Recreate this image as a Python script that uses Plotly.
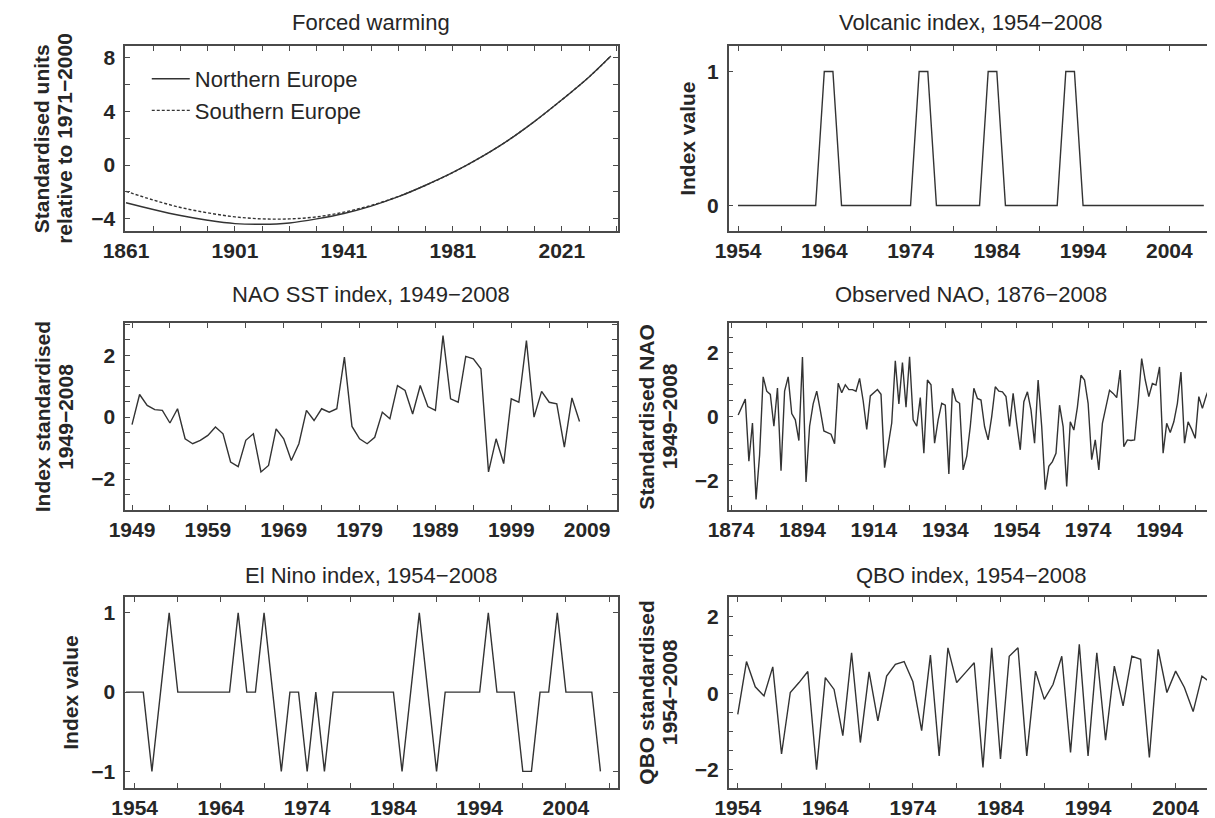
import plotly.graph_objects as go

# ---------------- data ----------------
# Forced warming (standardised units relative to 1971-2000)
fw_years = [1861, 1871, 1881, 1891, 1901, 1911, 1921, 1931, 1941, 1951,
            1961, 1971, 1981, 1991, 2001, 2011, 2021, 2031, 2039]
fw_north = [-2.8, -3.3, -3.75, -4.1, -4.35, -4.4, -4.3, -4.0, -3.6, -3.05,
            -2.35, -1.5, -0.55, 0.55, 1.8, 3.25, 4.85, 6.55, 8.1]
fw_south = [-1.95, -2.6, -3.15, -3.55, -3.85, -4.0, -4.0, -3.85, -3.5, -3.0,
            -2.33, -1.5, -0.55, 0.55, 1.8, 3.25, 4.85, 6.55, 8.1]

# Volcanic index 1954-2008
volc_years = list(range(1954, 2009))
volc_vals = [0, 0, 0, 0, 0, 0, 0, 0, 0, 0,
             1, 1,
             0, 0, 0, 0, 0, 0, 0, 0, 0,
             1, 1,
             0, 0, 0, 0, 0, 0,
             1, 1,
             0, 0, 0, 0, 0, 0, 0,
             1, 1,
             0, 0, 0, 0, 0, 0, 0, 0, 0, 0, 0, 0, 0, 0, 0]

# NAO SST index 1949-2008
sst_years = list(range(1949, 2009))
sst_vals = [-0.24, 0.73, 0.38, 0.24, 0.22, -0.19, 0.27, -0.70, -0.86, -0.75,
            -0.59, -0.32, -0.54, -1.45, -1.60, -0.75, -0.54, -1.77, -1.56, -0.38,
            -0.70, -1.40, -0.86, 0.22, -0.11, 0.27, 0.16, 0.27, 1.94, -0.30,
            -0.70, -0.86, -0.65, 0.16, -0.05, 1.02, 0.86, 0.10, 1.02, 0.34,
            0.22, 2.63, 0.59, 0.48, 1.96, 1.88, 1.56, -1.77, -0.70, -1.50,
            0.59, 0.48, 2.47, 0.00, 0.83, 0.48, 0.43, -0.97, 0.62, -0.14]

# Observed NAO 1876-2008
nao_years = list(range(1876, 2009))
nao_vals = [0.05, 0.30, 0.55, -1.40, -0.20, -2.60, -1.20, 1.25, 0.80, 0.70,
            -0.30, 0.90, -1.70, 0.80, 1.25, 0.10, -0.10, -0.75, 1.87, -2.05,
            -0.30, 0.40, 0.80, 0.20, -0.45, -0.50, -0.55, -0.85, 1.05, 0.75,
            1.00, 0.85, 0.85, 0.80, 1.20, 0.50, -0.40, 0.65, 0.75, 0.85,
            0.70, -1.60, -0.90, -0.20, 1.75, 0.40, 1.70, 0.30, 1.88, -0.10,
            -0.30, 0.60, -1.15, 1.15, 1.00, -0.83, -0.10, 0.42, 0.36, -1.80,
            0.89, 0.50, 0.42, -1.67, -1.25, -0.31, 0.89, 0.57, 0.52, -0.31,
            -0.73, 0.00, 0.94, 0.80, 0.78, 0.63, -0.31, 0.73, -0.21, -1.04,
            0.47, 0.78, 0.21, -0.83, 1.15, -0.31, -2.29, -1.56, -1.41, -1.15,
            0.36, -0.31, -2.19, -0.16, -0.42, 0.30, 1.30, 1.15, 0.42, -1.35,
            -0.73, -1.67, -0.21, 0.30, 0.83, 0.73, 0.60, 1.46, -0.94, -0.73,
            -0.75, -0.73, 0.42, 1.82, 1.15, 0.63, 1.04, 0.99, 1.56, -1.15,
            -0.21, -0.50, -0.16, 0.42, 1.40, -0.83, -0.16, -0.40, -0.68, 0.63,
            0.26, 0.63, 0.94]

# El Nino index 1953-2008
enso_years = list(range(1953, 2009))
enso_vals = [0, 0, 0, -1, 0, 1, 0, 0, 0, 0,
             0, 0, 0, 1, 0, 0, 1, 0, -1, 0,
             0, -1, 0, -1, 0, 0, 0, 0, 0, 0,
             0, 0, -1, 0, 1, 0, -1, 0, 0, 0,
             0, 0, 1, 0, 0, 0, -1, -1, 0, 0,
             1, 0, 0, 0, 0, -1]

# QBO index 1954-2008
qbo_years = list(range(1954, 2009))
qbo_vals = [-0.55, 0.83, 0.17, -0.07, 0.69, -1.59, 0.02, 0.28, 0.57, -2.00,
            0.41, 0.10, -1.11, 1.06, -1.29, 0.56, -0.72, 0.45, 0.76, 0.83,
            0.30, -0.98, 1.00, -1.64, 1.19, 0.28, 0.54, 0.80, -1.94, 1.19,
            -1.72, 0.97, 1.19, -1.64, 0.58, -0.16, 0.23, 0.97, -1.55, 1.28,
            -1.64, 1.06, -1.23, 0.71, -0.33, 0.97, 0.89, -1.68, 1.15, 0.02,
            0.58, 0.15, -0.48, 0.45, 0.28]

titles = ["Forced warming", "Volcanic index, 1954\u22122008",
          "NAO SST index, 1949\u22122008", "Observed NAO, 1876\u22122008",
          "El Nino index, 1954\u22122008", "QBO index, 1954\u22122008"]
ylabels = [["Standardised units", "relative to 1971\u22122000"], ["Index value"],
           ["Index standardised", "1949\u22122008"], ["Standardised NAO", "1949\u22122008"],
           ["Index value"], ["QBO standardised", "1954\u22122008"]]

# ---------------- layout helpers ----------------
W, H = 1215, 818
SH = 8  # page body margin compensation
FONT = "Liberation Sans, Arial, Helvetica, sans-serif"
NFONT = "Liberation Sans Narrow, Arial Narrow, Liberation Sans, sans-serif"
INK = "#262626"
AXC = "#4a4a4a"
LINEC = "#333333"


def fx(px):
    return (px - SH) / W


def fy(py):
    return 1 - (py - SH) / H


# panel boxes in reference pixels: (left, right, top, bottom)
boxes = [(104, 606, 46, 231), (719, 1214, 46, 231),
         (104, 605, 323, 510), (719, 1214, 323, 510),
         (104, 606, 597, 788), (719, 1214, 597, 788)]
title_y = [22, 22, 295, 295, 575, 575]
ylab_x = [[19, 42], [677], [20, 43], [635, 659], [48], [635, 659]]

xcfg = [dict(range=[1860.7, 2041.5], tick0=1861, dtick=40, mdtick=10),
        dict(range=[1952.9, 2009.2], tick0=1954, dtick=10, mdtick=5),
        dict(range=[1948.1, 2012.9], tick0=1949, dtick=10, mdtick=5),
        dict(range=[1873.3, 2009.3], tick0=1874, dtick=20, mdtick=10),
        dict(range=[1952.9, 2010.0], tick0=1954, dtick=10, mdtick=5),
        dict(range=[1952.95, 2008.4], tick0=1954, dtick=10, mdtick=5)]
ycfg = [dict(range=[-4.9, 8.85], tick0=0, dtick=4, mdtick=2),
        dict(range=[-0.19, 1.19], tick0=0, dtick=1, mdtick=None),
        dict(range=[-3.0, 3.04], tick0=0, dtick=2, mdtick=0.5),
        dict(range=[-2.93, 2.94], tick0=0, dtick=2, mdtick=0.5),
        dict(range=[-1.21, 1.2], tick0=0, dtick=1, mdtick=None),
        dict(range=[-2.48, 2.52], tick0=0, dtick=2, mdtick=0.5)]

fig = go.Figure()

line_style = dict(color=LINEC, width=1.4)

series = [None,
          (volc_years, volc_vals),
          (sst_years, sst_vals),
          (nao_years, nao_vals),
          (enso_years, enso_vals),
          (qbo_years, qbo_vals)]

# panel 1 with legend
fig.add_trace(go.Scatter(x=fw_years, y=fw_north, mode="lines", name="Northern Europe",
                         line=dict(color=LINEC, width=1.4, shape="spline"),
                         xaxis="x", yaxis="y", showlegend=True))
fig.add_trace(go.Scatter(x=fw_years, y=fw_south, mode="lines", name="Southern Europe",
                         line=dict(color=LINEC, width=1.4, shape="spline", dash="3px,2px"),
                         xaxis="x", yaxis="y", showlegend=True))

for i in range(1, 6):
    xs, ys = series[i]
    fig.add_trace(go.Scatter(x=xs, y=ys, mode="lines", line=line_style,
                             xaxis=f"x{i+1}", yaxis=f"y{i+1}", showlegend=False))

layout = dict(width=W, height=H, margin=dict(l=0, r=0, t=0, b=0),
              paper_bgcolor="white", plot_bgcolor="white",
              font=dict(family=FONT, color=INK),
              legend=dict(x=fx(126), y=fy(58), xanchor="left", yanchor="top",
                          bgcolor="rgba(0,0,0,0)", borderwidth=0,
                          font=dict(family=FONT, size=22, color=INK),
                          tracegroupgap=0, itemwidth=38))

common = dict(showline=True, mirror="ticks", linecolor=AXC, linewidth=1.5,
              ticks="inside", ticklen=5, tickwidth=1.2, tickcolor=AXC,
              showgrid=False, zeroline=False, tickmode="linear",
              tickfont=dict(family=NFONT, size=21, color=INK, weight="bold"))

annotations = []
for i, (l, r, t, b) in enumerate(boxes):
    xa = dict(common, domain=[fx(l), fx(r)], range=xcfg[i]["range"],
              tick0=xcfg[i]["tick0"], dtick=xcfg[i]["dtick"],
              anchor=f"y{i+1}" if i else "y", ticklabelstandoff=0,
              minor=dict(ticks="inside", ticklen=5, tickwidth=1.2, tickcolor=AXC,
                         tick0=xcfg[i]["tick0"], dtick=xcfg[i]["mdtick"]))
    ya = dict(common, domain=[fy(b), fy(t)], range=ycfg[i]["range"],
              tick0=ycfg[i]["tick0"], dtick=ycfg[i]["dtick"],
              anchor=f"x{i+1}" if i else "x", ticklabelstandoff=4)
    if ycfg[i]["mdtick"]:
        ya["minor"] = dict(ticks="inside", ticklen=5, tickwidth=1.2, tickcolor=AXC,
                           tick0=0, dtick=ycfg[i]["mdtick"])
    layout["xaxis" if i == 0 else f"xaxis{i+1}"] = xa
    layout["yaxis" if i == 0 else f"yaxis{i+1}"] = ya
    annotations.append(dict(text=titles[i], xref="paper", yref="paper",
                            x=fx((l + r) / 2), y=fy(title_y[i]),
                            xanchor="center", yanchor="middle", showarrow=False,
                            font=dict(family=FONT, size=22, color=INK)))
    for txt, xp in zip(ylabels[i], ylab_x[i]):
        annotations.append(dict(text=txt, xref="paper", yref="paper",
                                x=fx(xp), y=fy((t + b) / 2),
                                xanchor="center", yanchor="middle", showarrow=False,
                                textangle=-90,
                                font=dict(family=NFONT, size=21, color=INK, weight="bold")))

layout["annotations"] = annotations
fig.update_layout(**layout)
fig.write_html("out.html")
